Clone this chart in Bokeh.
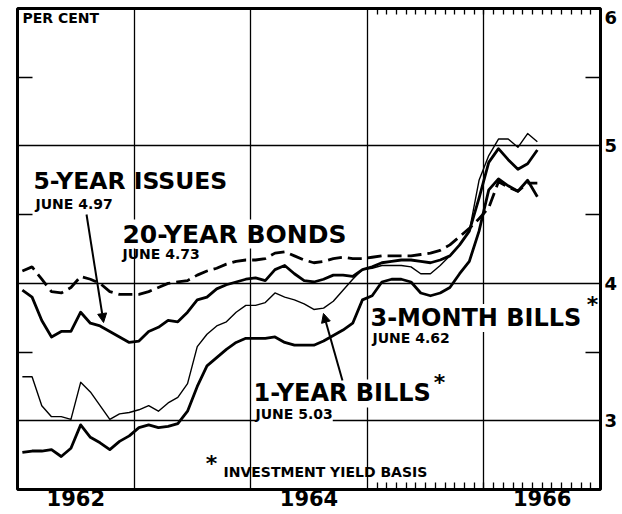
from bokeh.plotting import figure
from bokeh.models import Range1d, FixedTicker, LinearAxis, Label, Arrow, NormalHead, Grid
from bokeh.embed import file_html
from bokeh.resources import INLINE

# ---------------- data (monthly averages, Jan 1962 - Jun 1966) ----------------
start_year = 1962
month_index = list(range(54))

five_year = [3.95, 3.90, 3.73, 3.61, 3.65, 3.65, 3.79, 3.71, 3.69, 3.65, 3.61, 3.57,
             3.58, 3.65, 3.68, 3.73, 3.72, 3.79, 3.88, 3.90, 3.96, 3.99, 4.01, 4.03,
             4.04, 4.02, 4.10, 4.13, 4.07, 4.02, 4.01, 4.03, 4.06, 4.06, 4.05, 4.10,
             4.12, 4.15, 4.16, 4.17, 4.17, 4.16, 4.15, 4.17, 4.20, 4.28, 4.38, 4.62,
             4.88, 4.98, 4.90, 4.83, 4.87, 4.97]

twenty_year = [4.09, 4.12, 4.03, 3.94, 3.93, 3.97, 4.05, 4.03, 4.00, 3.94, 3.92, 3.92,
               3.92, 3.94, 3.97, 4.00, 4.01, 4.02, 4.06, 4.09, 4.11, 4.14, 4.16, 4.17,
               4.17, 4.18, 4.22, 4.23, 4.20, 4.17, 4.15, 4.16, 4.18, 4.19, 4.18, 4.18,
               4.19, 4.20, 4.20, 4.20, 4.20, 4.21, 4.22, 4.24, 4.28, 4.34, 4.40, 4.47,
               4.55, 4.74, 4.70, 4.67, 4.73, 4.73]

one_year = [3.32, 3.32, 3.11, 3.03, 3.03, 3.01, 3.28, 3.21, 3.11, 3.01, 3.05, 3.06,
            3.08, 3.11, 3.07, 3.13, 3.17, 3.27, 3.54, 3.63, 3.69, 3.72, 3.79, 3.84,
            3.84, 3.86, 3.93, 3.90, 3.88, 3.85, 3.81, 3.82, 3.87, 3.95, 4.03, 4.10,
            4.11, 4.13, 4.13, 4.13, 4.12, 4.07, 4.07, 4.13, 4.20, 4.28, 4.38, 4.75,
            4.93, 5.05, 5.05, 4.99, 5.09, 5.03]

three_month = [2.77, 2.78, 2.78, 2.79, 2.74, 2.80, 2.97, 2.88, 2.84, 2.79, 2.85, 2.89,
               2.95, 2.97, 2.95, 2.96, 2.98, 3.07, 3.25, 3.40, 3.46, 3.52, 3.57, 3.60,
               3.60, 3.60, 3.61, 3.57, 3.55, 3.55, 3.55, 3.58, 3.62, 3.66, 3.71, 3.88,
               3.91, 4.01, 4.03, 4.03, 4.01, 3.93, 3.91, 3.93, 3.97, 4.07, 4.16, 4.38,
               4.68, 4.76, 4.71, 4.67, 4.75, 4.63]

year_labels = ["1962", "1964", "1966"]
year_label_pos = [1962.5, 1964.5, 1966.5]
grid_years = [1963, 1964, 1965, 1966]
grid_rates = [3, 4, 5]
half_rates = [3.5, 4.5, 5.5]
rate_ticks = [3, 4, 5, 5.938]
rate_tick_labels = ["3", "4", "5", "6"]
monthly_tick_years = [1965, 1966]

x = [start_year + (m + 0.5) / 12 for m in month_index]
month_ticks = [y + k / 12 for y in monthly_tick_years for k in range(12)
               if not (y == 1965 and k == 0)]

FONT = "DejaVu Sans"

p = figure(width=622, height=514, x_range=Range1d(1962, 1967), y_range=Range1d(2.5, 6.0),
           toolbar_location=None, output_backend="svg",
           x_axis_location=None, y_axis_location=None,
           min_border_left=17, min_border_right=22, min_border_top=8, min_border_bottom=25)
p.grid.visible = False
p.outline_line_color = "black"
p.outline_line_width = 3
p.background_fill_color = "white"
p.border_fill_color = "white"

p.add_layout(Grid(dimension=0, ticker=FixedTicker(ticks=grid_years),
                  grid_line_color="black", grid_line_width=1.3))
p.add_layout(Grid(dimension=1, ticker=FixedTicker(ticks=grid_rates),
                  grid_line_color="black", grid_line_width=1.3))

left = LinearAxis(ticker=FixedTicker(ticks=[], minor_ticks=half_rates),
                  axis_line_color=None, major_tick_line_color=None,
                  minor_tick_in=15, minor_tick_out=0, minor_tick_line_width=1.6,
                  minor_tick_line_color="black", major_label_standoff=0,
                  major_label_text_font_size="0px")
p.add_layout(left, "left")

right = LinearAxis(ticker=FixedTicker(ticks=rate_ticks, minor_ticks=half_rates),
                   major_label_overrides=dict(zip(rate_ticks, rate_tick_labels)),
                   axis_line_color=None, major_tick_in=0, major_tick_out=0,
                   minor_tick_in=15, minor_tick_out=0, minor_tick_line_width=1.6,
                   minor_tick_line_color="black", major_label_standoff=4,
                   major_label_text_font=FONT, major_label_text_font_style="bold",
                   major_label_text_font_size="18px", major_label_text_color="black")
p.add_layout(right, "right")

top = LinearAxis(ticker=FixedTicker(ticks=[], minor_ticks=month_ticks),
                 axis_line_color=None, major_tick_line_color=None,
                 minor_tick_in=6, minor_tick_out=0, minor_tick_line_width=1.3,
                 minor_tick_line_color="black", major_label_standoff=0,
                 major_label_text_font_size="0px")
p.add_layout(top, "above")

bottom = LinearAxis(ticker=FixedTicker(ticks=year_label_pos, minor_ticks=month_ticks),
                    major_label_overrides=dict(zip(year_label_pos, year_labels)),
                    axis_line_color=None, major_tick_in=0, major_tick_out=0,
                    minor_tick_in=7, minor_tick_out=0, minor_tick_line_width=1.3,
                    minor_tick_line_color="black", major_label_standoff=0,
                    major_label_text_font=FONT, major_label_text_font_style="bold",
                    major_label_text_font_size="21px", major_label_text_color="black")
p.add_layout(bottom, "below")

p.line(x, twenty_year, line_color="black", line_width=2.8, line_dash="14 6")
p.line(x, five_year, line_color="black", line_width=2.8, line_join="round")
p.line(x, one_year, line_color="black", line_width=1.4, line_join="round")
p.line(x, three_month, line_color="black", line_width=2.8, line_join="round")


def lab(xv, yv, txt, size, bg=None, align="left"):
    l = Label(x=xv, y=yv, text=txt, text_font=FONT, text_font_style="bold",
              text_font_size=size, text_color="black", text_baseline="middle",
              text_align=align)
    if bg:
        l.background_fill_color = bg
    p.add_layout(l)


lab(1962.043, 5.929, "PER CENT", "14px")
lab(1962.137, 4.745, "5-YEAR ISSUES", "23.5px")
lab(1962.154, 4.581, "JUNE 4.97", "14px")
lab(1962.900, 4.359, "20-YEAR BONDS", "25px", "white")
lab(1962.900, 4.217, "JUNE 4.73", "14px")
lab(1965.027, 3.748, "3-MONTH BILLS", "24px", "white")
lab(1966.932, 3.846, "*", "22px", align="center")
lab(1965.045, 3.606, "JUNE 4.62", "14px")
lab(1964.024, 3.199, "1-YEAR BILLS", "24px", "white")
lab(1965.619, 3.279, "*", "22px", align="center")
lab(1964.041, 3.047, "JUNE 5.03", "14px", "white")
lab(1963.664, 2.686, "*", "22px", align="center")
lab(1963.767, 2.627, "INVESTMENT YIELD BASIS", "14px")

p.add_layout(Arrow(end=NormalHead(size=9, fill_color="black", line_color="black"),
                   x_start=1962.592, y_start=4.501, x_end=1962.738, y_end=3.715,
                   line_width=2, line_color="black"))
p.add_layout(Arrow(end=NormalHead(size=9, fill_color="black", line_color="black"),
                   x_start=1964.787, y_start=3.293, x_end=1964.624, y_end=3.781,
                   line_width=2, line_color="black"))

open("out.html", "w").write(file_html(p, INLINE))
